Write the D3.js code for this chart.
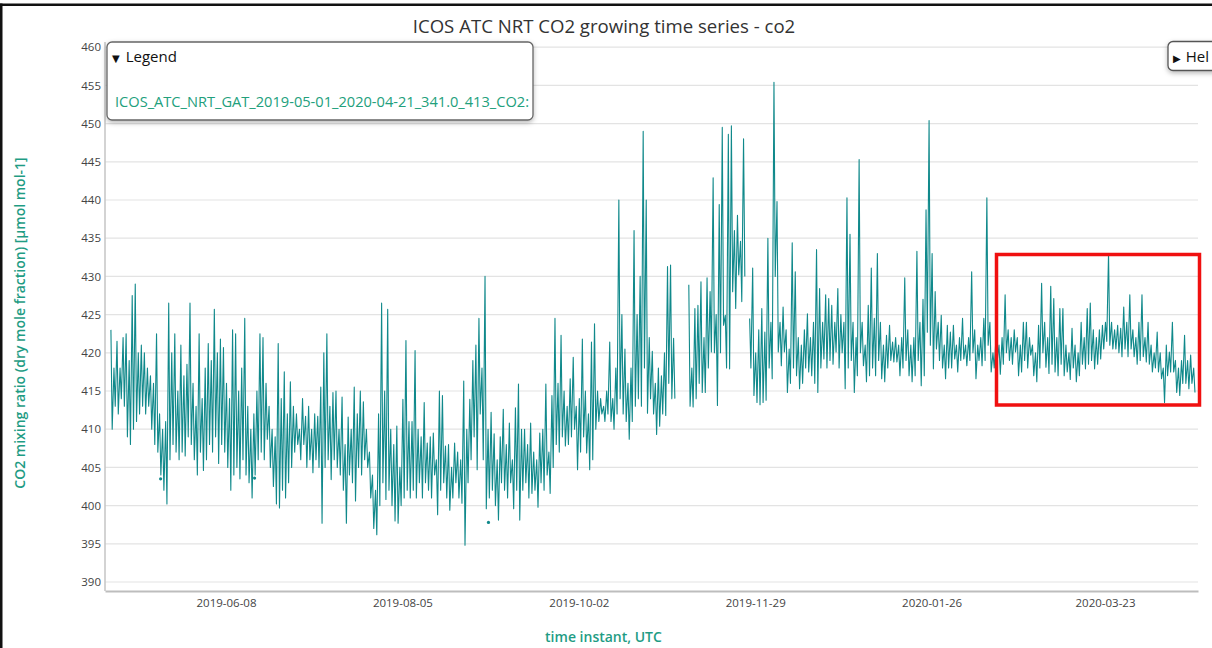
<!DOCTYPE html>
<html>
<head>
<meta charset="utf-8">
<script src="https://cdn.jsdelivr.net/npm/d3@7"></script>
<style>
  html, body { margin: 0; padding: 0; background: #fff; }
  svg { display: block; font-family: "Open Sans", "DejaVu Sans", sans-serif; }
</style>
</head>
<body>
<svg id="co2-chart"></svg>
<script>
const width = 1212, height = 648
const margin = {top: 42, bottom: 57, left: 105, right: 14}

// series start (one pair of values per day: night high, afternoon low)
const startDay = "2019-05-01"
const dailyHigh = [
    423, 418, 421.5, 418, 422, 422.5, 419, 427.5, 429, 420,
    421, 420, 418, 417, 416, 422.5, 412, 410, 411, 426.5,
    420, 422.5, 415, 421, 417, 418.5, 426.5, 416, 413, 422.5,
    414, 418, 421.2, 419, 425.7, 420, 421.8, 420.7, 416, 414,
    423, 422.5, 415, 418, 424.5, 413, 410, 412, 415, 422.5,
    422, 416, 413, 410, 409, 421.2, 414, 417.5, 412, 416.2,
    413, 412, 410, 414, 411.7, 413, 410, 412, 411.7, 415.5,
    420, 422.5, 413, 414.8, 415, 410, 414.2, 408, 411.6, 410,
    415.5, 412, 415, 413.6, 410, 407, 404, 402, 412, 426.5,
    415, 425.7, 410, 408, 410.4, 405, 413.9, 421.6, 411, 411,
    420.3, 410, 409, 413.5, 408.2, 409, 409.5, 406, 415, 414.4,
    407.8, 408, 405, 408.2, 407, 406, 416.3, 410, 413.9, 419,
    421, 424.5, 418, 430, 410, 412.2, 409.4, 406, 409, 412.6,
    408, 410.8, 406, 412.8, 415.9, 410, 410, 408, 410.8, 407,
    406, 409.5, 410, 415.9, 407, 414.4, 424.5, 416, 422.3, 415,
    413, 416.6, 419.4, 413, 414, 421.8, 415, 412, 421.4, 423.8,
    415, 414, 413, 415, 421.4, 414, 418, 440, 425, 420.5,
    416, 418, 436, 425, 430, 449, 440, 422, 420.2, 416,
    418, 417, 420, 431.3, 431.5, 421.9, null, null, null, null,
    428.9, 418, 425.8, 426.2, 429.3, 422, 429.8, 428, 442.9, 425,
    439.4, 449.5, 424.9, 448.6, 449.7, 436, 438, 434.6, 448, null,
    424.5, 431.1, 420, 423, 425.8, 422.7, 435, 424, 455.4, 439.8,
    424, 426, 423, 420.5, 434.4, 430.6, 422, 421, 423, 425.1,
    422, 424, 433.5, 428.4, 424, 427.6, 427.1, 426.2, 424, 428.4,
    425, 424, 440.3, 435.5, 424, 422, 445.3, 424, 421, 426.2,
    431.1, 424.5, 433, 424, 421, 422.3, 423.6, 421.4, 422, 421,
    422, 429.8, 423, 421, 422, 433.3, 424, 427, 438.7, 450.4,
    433, 428, 424, 424.9, 421, 423.6, 422.7, 423.6, 421, 422,
    424.5, 421, 422, 430.6, 423, 421, 422, 424.5, 440.3, 424,
    420, 421.9, 421, 422, 427.6, 423, 422, 423, 422, 421,
    424, 424, 422, 421, 420, 423.6, 429.1, 424, 422, 428.7,
    427.1, 422, 425.8, 425.8, 421, 420, 423.2, 421, 420, 424,
    422, 425.8, 426.5, 423, 422, 423, 423.6, 424, 433, 424,
    423, 423.6, 423.2, 426, 424, 427.6, 423, 422, 424, 427.6,
    422, 424, 421, 420, 422.7, 420, 418, 421, 420.1, 424,
    419, 418, 419, 422.3, 419, 419.7, 418,
]
const dailyLow = [
    410, 413, 412, 414, 413, 409, 408, 410, 411, 412,
    413, 412, 413, 410, 408, 407, 404, 402, 400.2, 406,
    408, 407, 406, 407, 406.5, 409, 408, 406, 404, 407,
    404.6, 406, 408, 407, 409, 405.5, 408, 407, 405, 402,
    404, 405, 403.5, 406, 404, 403, 401, 404, 406, 407,
    406, 408.7, 405, 402.5, 400.2, 399.7, 402, 401, 403, 405,
    407, 408, 406, 408, 405, 406, 404.3, 406, 405, 397.7,
    405, 406, 403.4, 406, 405, 404, 402, 397.7, 404, 403,
    400.6, 405, 404, 406, 405, 401, 397, 396.2, 400, 403,
    400.8, 402, 400, 398, 397.7, 400, 401, 402, 401, 402,
    401, 403, 401, 403, 402, 401, 404, 398.8, 402, 403,
    401, 399.4, 401, 403, 401, 400.3, 394.8, 403, 406, 409,
    404.7, 412, 406, 399.6, 401, 402, 400, 398.1, 403, 402,
    401, 403, 399.6, 402, 398.1, 402, 403, 401, 401.6, 402,
    399.8, 403, 402, 404, 401.6, 405, 408, 407, 409, 407.8,
    408, 409, 410, 404.7, 407, 409, 406.9, 404.7, 406, 410,
    411, 412, 411, 412, 411, 410, 412, 414, 412, 411,
    408.7, 411, 413, 414, 413, 418, 412.1, 414, 412, 409.3,
    410.4, 412, 411.8, 416, 414, 414, null, null, null, null,
    413, 412.9, 414, 416, 414.8, 414.8, 418, 420.1, 420, 413.1,
    420, 423.6, 418, 417.9, 428, 425.8, 430.2, 426.7, 430, null,
    418, 414.4, 413.5, 413.2, 413.5, 413.8, 418, 416.6, 430, 420.1,
    418.3, 420.1, 414.8, 416, 418, 417, 415.3, 416, 418, 417.5,
    417, 416, 414.8, 418, 419.2, 418, 419, 418.5, 420.1, 418,
    420, 415.3, 418, 419, 414.8, 417, 420, 418.3, 416.2, 417,
    418, 417, 419, 416.6, 416.2, 418, 419, 418.8, 418.8, 417,
    418, 419, 417, 416.2, 417, 419, 415.7, 417, 422.7, 421,
    417.9, 420.5, 419, 418, 416.6, 418, 418, 419.2, 417.5, 419,
    419.2, 418.3, 419, 420, 416.6, 419, 418.3, 419, 421, 417.5,
    418, 419, 417.2, 418.5, 420, 419, 418.5, 420.1, 417, 417.5,
    419, 418, 419.7, 417, 416.2, 418, 420, 418.1, 417.3, 418.5,
    417.5, 417, 418.5, 417, 417.5, 416.5, 418, 416.2, 417, 418.5,
    417.9, 418.5, 419, 417.9, 418.5, 419.2, 420.5, 421.5, 421, 420.5,
    420.5, 420, 419.5, 420.5, 419.5, 420.5, 419.5, 418.5, 419, 419.5,
    418.8, 418.5, 417.5, 418, 417.5, 416.6, 413.5, 417, 417.5, 417.5,
    414.8, 414.4, 416, 416, 415.3, 416, 414.8,
]
// isolated single measurements (day offset, value)
const strayDays = [16.5, 47.4, 124.3]
const strayValues = [403.5, 403.6, 397.8]

const yTicks = d3.range(390, 461, 5)
const xTicks = ["2019-06-08", "2019-08-05", "2019-10-02", "2019-11-29", "2020-01-26", "2020-03-23"]
const titleText = "ICOS ATC NRT CO2 growing time series - co2"
const legendLabel = "ICOS_ATC_NRT_GAT_2019-05-01_2020-04-21_341.0_413_CO2:"

const lineColor = "#10898b"
const labelGreen = "#1f9c84"

const svg = d3.select("svg#co2-chart")
    .attr("viewBox", [0, 0, width, height])
    .attr("width", width)
    .attr("height", height)

const parse = d3.utcParse("%Y-%m-%d")
const t0 = parse(startDay)
const hours = (d, h) => new Date(t0.getTime() + (d * 24 + h) * 3600e3)

const points = []
dailyHigh.forEach((hi, i) => {
    const lo = dailyLow[i]
    points.push({t: hours(i, 4), v: hi})
    points.push({t: hours(i, 14), v: lo})
})

const xScale = d3.scaleUtc()
    .domain([new Date(Date.UTC(2019, 3, 29, 5, 16)), new Date(Date.UTC(2020, 3, 22, 14, 0))])
    .range([margin.left, width - margin.right])

const yScale = d3.scaleLinear()
    .domain([388.82, 460.68])
    .range([height - margin.bottom, margin.top])

const defs = svg.append("defs")
const shadow = defs.append("filter").attr("id", "shadow")
    .attr("x", "-10%").attr("y", "-20%").attr("width", "120%").attr("height", "160%")
shadow.append("feDropShadow")
    .attr("dx", 0).attr("dy", 2).attr("stdDeviation", 2.5)
    .attr("flood-color", "#000").attr("flood-opacity", 0.28)

// frame of the screenshot
svg.append("rect").attr("x", 0).attr("y", 3.5).attr("width", width).attr("height", 2.5).attr("fill", "#111")
svg.append("rect").attr("x", 0).attr("y", 3.5).attr("width", 2.5).attr("height", height).attr("fill", "#111")

// H grid lines
svg.append("g").classed("h-grid", true)
    .selectAll("line")
    .data(yTicks)
    .enter()
    .append("line")
    .attr("x1", margin.left)
    .attr("x2", width - margin.right)
    .attr("y1", d => yScale(d))
    .attr("y2", d => yScale(d))
    .attr("stroke", "#e3e3e3")
    .attr("stroke-width", 1.2)

// Y axis
const yAxis = svg.append("g").classed("y-axis", true)
    .attr("transform", `translate(${margin.left}, 0)`)
    .call(d3.axisLeft(yScale).tickValues(yTicks).tickSize(0).tickPadding(4))
yAxis.select(".domain").remove()
yAxis.selectAll("text").attr("font-size", 11.5).attr("fill", "#444").attr("font-family", "Open Sans")

svg.append("line")
    .attr("x1", margin.left).attr("x2", margin.left)
    .attr("y1", margin.top).attr("y2", height - margin.bottom)
    .attr("stroke", "#c4c4c4").attr("stroke-width", 1.5)

// X axis
const xAxis = svg.append("g").classed("x-axis", true)
    .attr("transform", `translate(0, ${height - margin.bottom})`)
    .call(d3.axisBottom(xScale).tickValues(xTicks.map(parse)).tickFormat(d3.utcFormat("%Y-%m-%d")).tickSize(0).tickPadding(8))
xAxis.select(".domain").attr("stroke", "#bdbdbd").attr("stroke-width", 2.2)
xAxis.selectAll("text").attr("font-size", 11.5).attr("fill", "#444").attr("font-family", "Open Sans")

// series
const line = d3.line()
    .defined(d => d.v != null)
    .x(d => xScale(d.t))
    .y(d => yScale(d.v))

svg.append("path")
    .datum(points)
    .attr("fill", "none")
    .attr("stroke", lineColor)
    .attr("stroke-width", 1.1)
    .attr("stroke-linejoin", "round")
    .attr("d", line)

svg.append("g").classed("strays", true)
    .selectAll("circle")
    .data(strayDays)
    .enter()
    .append("circle")
    .attr("cx", d => xScale(hours(d, 0)))
    .attr("cy", (d, i) => yScale(strayValues[i]))
    .attr("r", 1.6)
    .attr("fill", lineColor)

// titles
svg.append("text")
    .attr("x", 604).attr("y", 33)
    .attr("text-anchor", "middle")
    .attr("font-size", 18.6).attr("fill", "#333")
    .text(titleText)

svg.append("text")
    .attr("x", 603.5).attr("y", 642)
    .attr("text-anchor", "middle")
    .attr("font-size", 14).attr("font-weight", 600).attr("fill", labelGreen)
    .text("time instant, UTC")

svg.append("text")
    .attr("transform", "translate(25, 323) rotate(-90)")
    .attr("text-anchor", "middle")
    .attr("font-size", 14).attr("font-weight", 600).attr("fill", labelGreen)
    .text("CO2 mixing ratio (dry mole fraction) [µmol mol-1]")

// highlight box
svg.append("rect")
    .attr("x", 996.5).attr("y", 254.5).attr("width", 203).attr("height", 150.5)
    .attr("fill", "none").attr("stroke", "#f01010").attr("stroke-width", 3.5)

// legend panel
const legend = svg.append("g").classed("legend", true)
legend.append("rect")
    .attr("x", 107).attr("y", 42).attr("width", 426).attr("height", 78).attr("rx", 5)
    .attr("fill", "#fff").attr("stroke", "#666").attr("stroke-width", 1.3)
    .attr("filter", "url(#shadow)")
legend.append("text")
    .attr("x", 112).attr("y", 62)
    .attr("font-size", 15).attr("fill", "#111")
    .call(t => {
        t.append("tspan").attr("font-size", 10).text("\u25BC")
        t.append("tspan").attr("dx", 6).text("Legend")
    })
legend.append("text")
    .attr("x", 115).attr("y", 107)
    .attr("font-size", 14.6).attr("fill", "#22a07c")
    .attr("textLength", 414).attr("lengthAdjust", "spacingAndGlyphs")
    .text(legendLabel)

// help panel (cut by the window edge, as in the screenshot)
const help = svg.append("g").classed("help", true)
help.append("rect")
    .attr("x", 1168).attr("y", 41.5).attr("width", 60).attr("height", 29).attr("rx", 5)
    .attr("fill", "#fff").attr("stroke", "#555").attr("stroke-width", 1.3)
    .attr("filter", "url(#shadow)")
help.append("text")
    .attr("x", 1173).attr("y", 62)
    .attr("font-size", 15).attr("fill", "#111")
    .call(t => {
        t.append("tspan").attr("font-size", 10).text("\u25B6")
        t.append("tspan").attr("dx", 5).text("Hel")
    })
</script>
</body>
</html>
